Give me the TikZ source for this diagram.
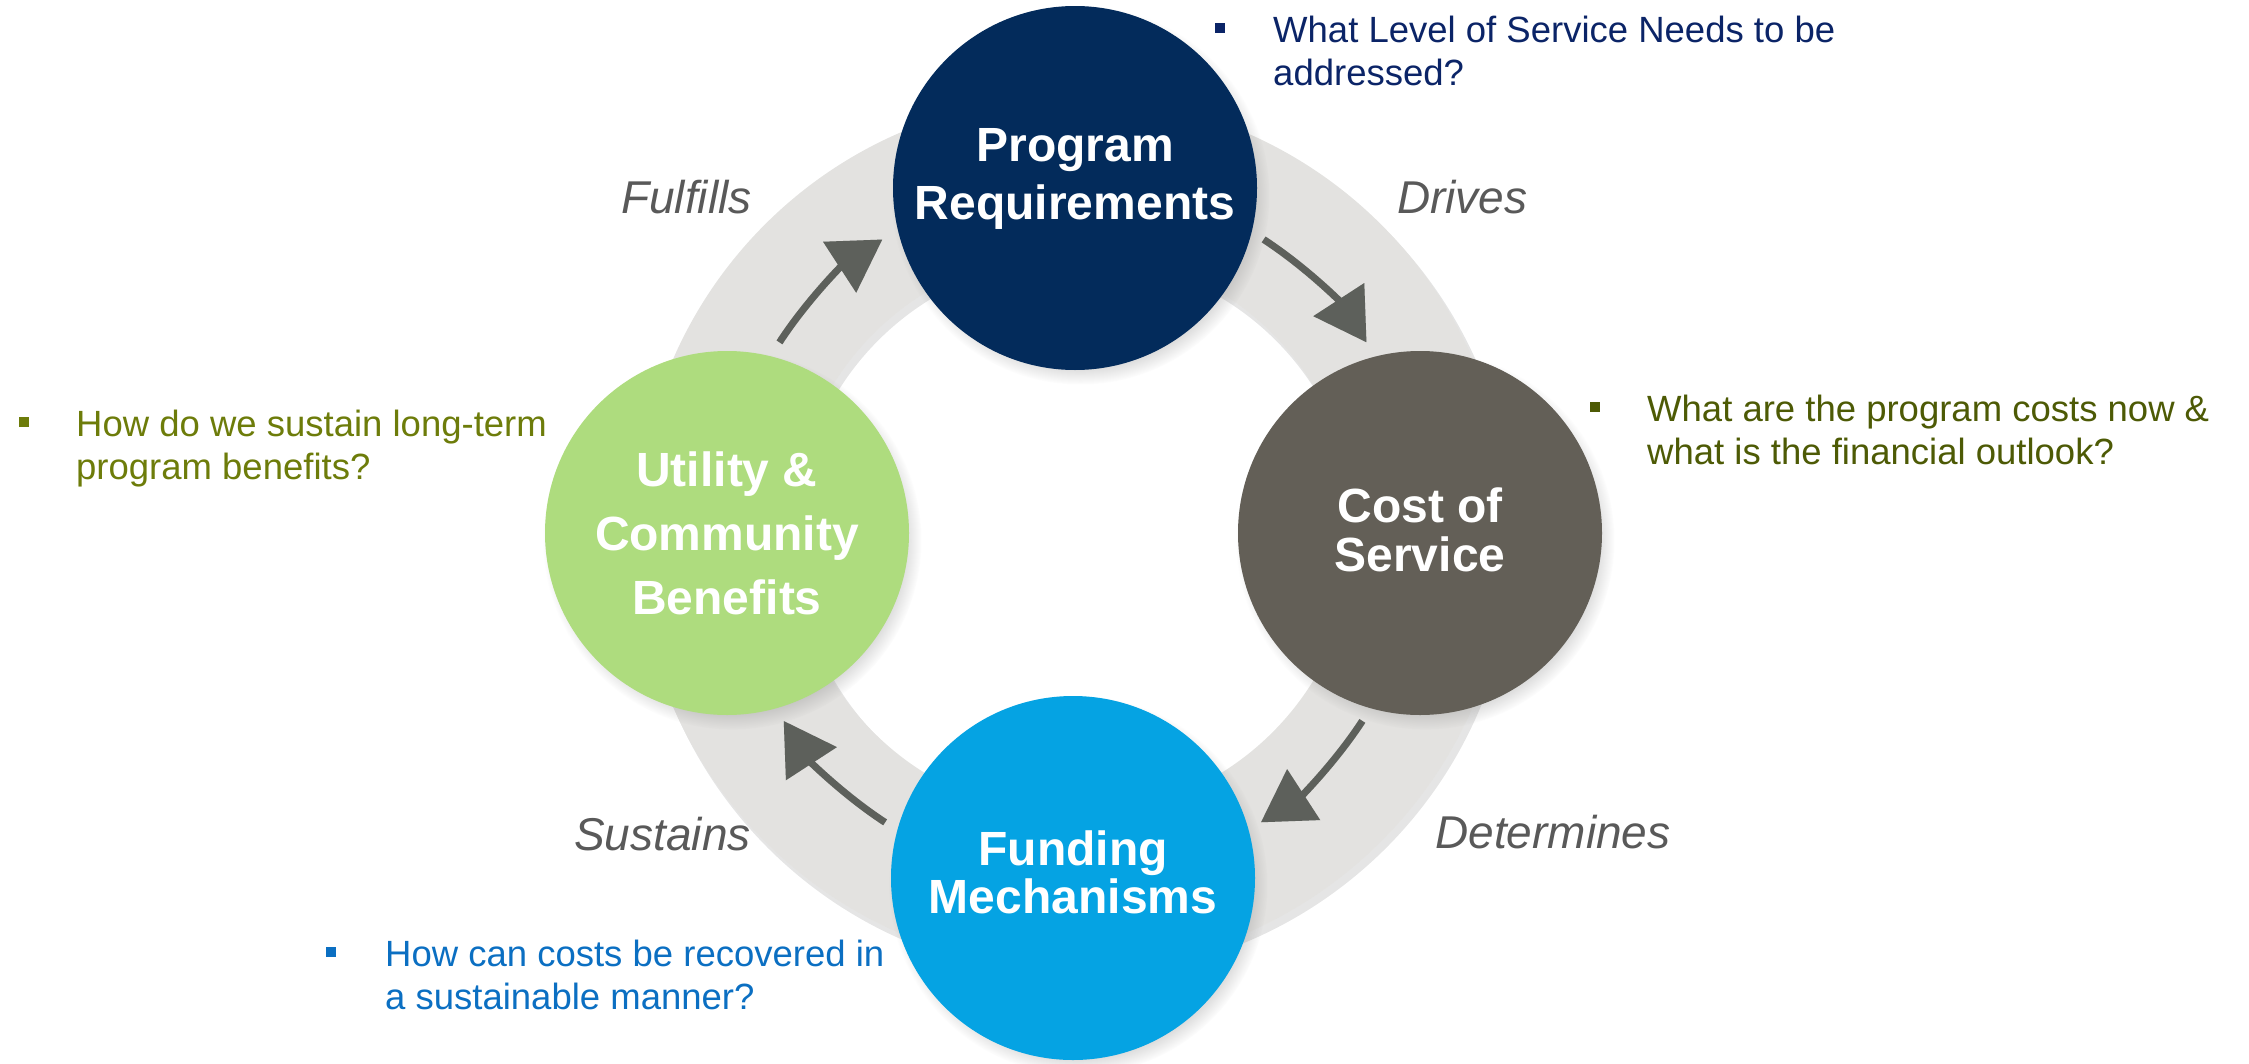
\documentclass[tikz,border=0pt]{standalone}
\usepackage{fontspec}
\setmainfont{Liberation Sans}
\usetikzlibrary{arrows.meta,shadows,fadings}
\definecolor{prnavy}{HTML}{032B5B}
\definecolor{costgray}{HTML}{635F57}
\definecolor{fundblue}{HTML}{05A3E3}
\definecolor{benegreen}{HTML}{AEDC7E}
\definecolor{ringgray}{HTML}{E3E2E0}
\definecolor{arrowgray}{HTML}{5D605B}
\definecolor{labelgray}{HTML}{595959}
\definecolor{qnavy}{HTML}{0B2467}
\definecolor{qolive}{HTML}{4D5A05}
\definecolor{qgreen}{HTML}{6D7C0A}
\definecolor{qblue}{HTML}{0B6FC2}
\begin{document}
\begin{tikzpicture}[x=1pt,y=1pt,
  bubble/.style={circle, minimum size=364pt, inner sep=0pt, draw=none,
    circular drop shadow={shadow xshift=5pt, shadow yshift=-7pt, shadow scale=1.04, opacity=0.45}},
  bubbletext/.style={text=white, align=center, inner sep=0pt,
    font=\bfseries\fontsize{48}{#1}\selectfont},
  flow/.style={draw=arrowgray, line width=7pt,
    -{Triangle[length=51pt,width=59pt]}},
  flowshadow/.style={draw=black, opacity=0.15, line width=7pt,
    -{Triangle[length=51pt,width=59pt]}},
  verb/.style={text=labelgray, anchor=base west, inner sep=0pt,
    font=\itshape\fontsize{46}{55}\selectfont},
  question/.style={anchor=base west, align=left, inner sep=0pt,
    font=\fontsize{36.5}{43.5}\selectfont},
  bulletbox/.style={rectangle, minimum size=10pt, inner sep=0pt, draw=none}]
\useasboundingbox (0,0) rectangle (2249,-1063);
\coordinate (c) at (1073,-533);
% ring with soft shadow
\fill[black, opacity=0.10, even odd rule]
  ([shift={(4pt,-6pt)}]c) circle[radius=437pt] ([shift={(4pt,-6pt)}]c) circle[radius=281pt];
\fill[ringgray, even odd rule] (c) circle[radius=436pt] (c) circle[radius=282pt];
% arrow start points
\coordinate (sDr) at ([shift={(57:350pt)}]c);
\coordinate (sDe) at ([shift={(-33:345pt)}]c);
\coordinate (sSu) at ([shift={(-123:345pt)}]c);
\coordinate (sFu) at ([shift={(147:350pt)}]c);
% arrow shadows
\begin{scope}[shift={(3pt,-5pt)}]
\draw[flowshadow] (sDr) arc[start angle=57, end angle=33, radius=350pt];
\draw[flowshadow] (sDe) arc[start angle=-33, end angle=-57, radius=345pt];
\draw[flowshadow] (sSu) arc[start angle=-123, end angle=-147, radius=345pt];
\draw[flowshadow] (sFu) arc[start angle=147, end angle=123, radius=350pt];
\end{scope}
% arrows
\draw[flow] (sDr) arc[start angle=57, end angle=33, radius=350pt];
\draw[flow] (sDe) arc[start angle=-33, end angle=-57, radius=345pt];
\draw[flow] (sSu) arc[start angle=-123, end angle=-147, radius=345pt];
\draw[flow] (sFu) arc[start angle=147, end angle=123, radius=350pt];
% circles
\node[bubble, fill=prnavy] (pr) at (1075,-188) {};
\node[bubble, fill=costgray] (cos) at (1420,-533) {};
\node[bubble, fill=fundblue] (fm) at (1073,-878) {};
\node[bubble, fill=benegreen] (uc) at (727,-533) {};
\node[bubbletext=58] (prt) at ([yshift=9.5pt]pr.center) {Program\\Requirements};
\node[bubbletext=49] (cost) at ([yshift=2.7pt]cos.center) {Cost of\\Service};
\node[bubbletext=48] (fmt) at ([yshift=6pt]fm.center) {Funding\\Mechanisms};
\node[bubbletext=64] (uct) at (uc.center) {Utility \&\\Community\\Benefits};
% verbs
\node[verb] (drives) at (1397,-213) {Drives};
\node[verb] (fulfills) at (621,-213) {Fulfills};
\node[verb] (determines) at (1435,-848) {Determines};
\node[verb] (sustains) at (574,-850) {Sustains};
% questions (base anchor = baseline of the last line)
\node[bulletbox, fill=qnavy] (bpr) at (1220,-28) {};
\node[question, text=qnavy] (qpr) at (1273,-85.5) {What Level of Service Needs to be\\addressed?};
\node[bulletbox, fill=qolive] (bcos) at (1595,-407) {};
\node[question, text=qolive] (qcos) at (1647,-464.5) {What are the program costs now \&\\what is the financial outlook?};
\node[bulletbox, fill=qgreen] (buc) at (24,-422) {};
\node[question, text=qgreen] (quc) at (76,-479.5) {How do we sustain long-term\\program benefits?};
\node[bulletbox, fill=qblue] (bfm) at (331,-952) {};
\node[question, text=qblue] (qfm) at (385,-1009.5) {How can costs be recovered in\\a sustainable manner?};
\end{tikzpicture}
\end{document}
